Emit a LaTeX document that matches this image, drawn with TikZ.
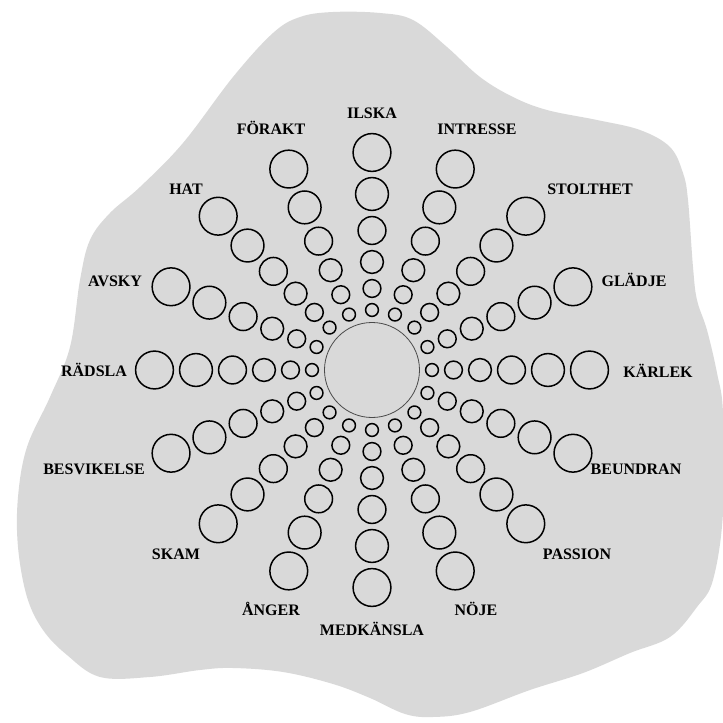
\documentclass[tikz,border=0pt]{standalone}
\usepackage{fontspec}
\setmainfont{Liberation Serif}
\usepackage{tikz}
\definecolor{blobgrey}{HTML}{D9D9D9}
\definecolor{hubline}{HTML}{4A4A4A}

\begin{document}
\begin{tikzpicture}[x=1pt,y=1pt,
  dot/.style={circle,draw=black,line width=1.5pt,inner sep=0pt},
  hub/.style={circle,draw=hubline,line width=0.8pt,minimum size=95pt,inner sep=0pt},
  lab/.style={font=\bfseries\fontsize{16}{16}\selectfont,inner sep=0pt,
              text height=10.5pt,text depth=0pt}
]
\useasboundingbox (-372,-353) rectangle (351,370);
% grey backdrop
\fill[blobgrey] plot[smooth cycle,tension=0.6] coordinates {
  (-72,353) (-39,358) (8,357) (41,350) (75,323) (108,293) (141,273)
  (175,260) (225,250) (268,240) (298,223) (311,197) (316,170) (321,103)
  (325,70) (335,40) (345,-3) (351,-43) (351,-143) (341,-210) (325,-237)
  (298,-267) (258,-283) (211,-303) (158,-320) (98,-342) (61,-347)
  (33,-344) (-2,-328) (-39,-314) (-89,-302) (-139,-298) (-172,-300)
  (-222,-307) (-272,-307) (-305,-285) (-329,-260) (-345,-227) (-354,-177)
  (-354,-127) (-345,-77) (-322,-27) (-302,23) (-292,90) (-282,130)
  (-262,157) (-232,183) (-189,227) (-139,293) (-99,337)};
\node[hub] (hub) at (0,0) {};
% sixteen spokes of growing circles
\foreach \i in {0,...,15}{
  \foreach \d/\r [count=\k] in {60/6.4,81.5/8.9,108/11.4,139.5/13.9,176/16.4,217.5/18.9}
    \node[dot,minimum size=2*\r pt] (d\i-\k) at ({90-22.5*\i}:\d) {};
}
% emotion names
\foreach \x/\y/\txt [count=\n] in {
  0/257/ILSKA, 105/241/INTRESSE, 218/181/STOLTHET, 262/89/GLÄDJE,
  286/-2/KÄRLEK, 264/-99/BEUNDRAN, 205/-184/PASSION, 104/-240/NÖJE,
  0/-260/MEDKÄNSLA, -101/-240/ÅNGER, -196/-184/SKAM, -278/-99/BESVIKELSE,
  -278/-1/RÄDSLA, -257/89/AVSKY, -186/181/HAT, -101/241/FÖRAKT}
  \node[lab] (l\n) at (\x,\y) {\txt};
\end{tikzpicture}
\end{document}
